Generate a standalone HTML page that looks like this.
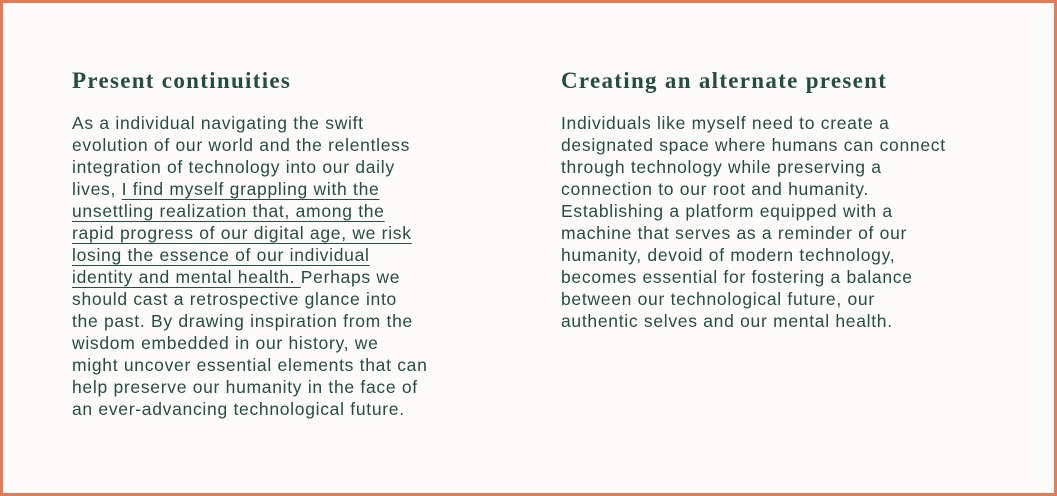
<!DOCTYPE html>
<html><head><meta charset="utf-8"><style>
html,body{margin:0;padding:0}
body{width:1057px;height:496px;box-sizing:border-box;border:3px solid #e37a5a;background:#fdfbfa;position:relative;overflow:hidden;font-family:"Liberation Sans",sans-serif;color:#264d42}
h2{position:absolute;margin:0;font-family:"Liberation Serif",serif;font-weight:bold;font-size:23px;letter-spacing:1.3px;top:65px;white-space:nowrap}
.t{position:absolute;top:109px;font-size:17.5px;line-height:22px;letter-spacing:0.7px;white-space:nowrap}
.t div{height:22px}
u{text-decoration:underline;text-underline-offset:4px;text-decoration-thickness:1px}
</style></head><body>
<h2 style="left:69px">Present continuities</h2>
<h2 style="left:558px">Creating an alternate present</h2>
<div class="t" style="left:69px">
<div>As a individual navigating the swift</div>
<div>evolution of our world and the relentless</div>
<div>integration of technology into our daily</div>
<div>lives, <u>I find myself grappling with the</u></div>
<div><u>unsettling realization that, among the</u></div>
<div><u>rapid progress of our digital age, we risk</u></div>
<div><u>losing the essence of our individual</u></div>
<div><u>identity and mental health. </u>Perhaps we</div>
<div>should cast a retrospective glance into</div>
<div>the past. By drawing inspiration from the</div>
<div>wisdom embedded in our history, we</div>
<div>might uncover essential elements that can</div>
<div>help preserve our humanity in the face of</div>
<div>an ever-advancing technological future.</div>
</div>
<div class="t" style="left:558px">
<div>Individuals like myself need to create a</div>
<div>designated space where humans can connect</div>
<div>through technology while preserving a</div>
<div>connection to our root and humanity.</div>
<div>Establishing a platform equipped with a</div>
<div>machine that serves as a reminder of our</div>
<div>humanity, devoid of modern technology,</div>
<div>becomes essential for fostering a balance</div>
<div>between our technological future, our</div>
<div>authentic selves and our mental health.</div>
</div>
</body></html>
